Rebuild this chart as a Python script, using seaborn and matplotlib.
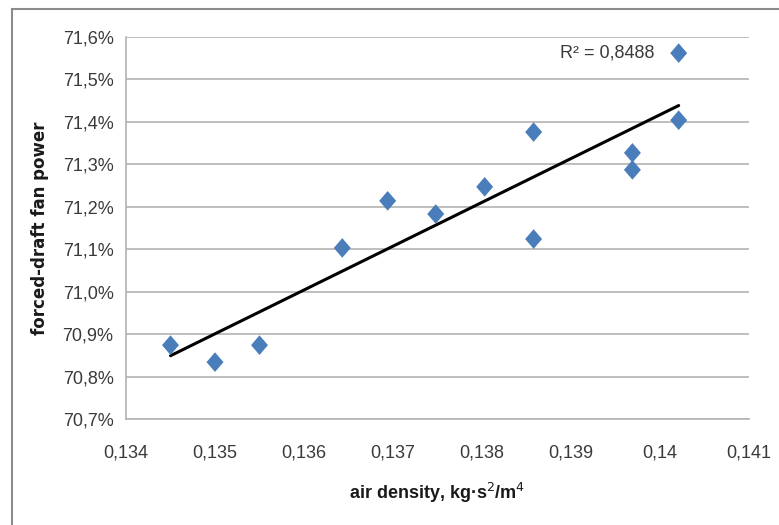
import numpy as np
import pandas as pd
import matplotlib
matplotlib.use('Agg')
import matplotlib.pyplot as plt
from matplotlib.patches import Rectangle
from matplotlib.path import Path
from matplotlib.ticker import FuncFormatter, MultipleLocator
import seaborn as sns

# air density, kg*s^2/m^4
density = [0.1345, 0.1350, 0.1355, 0.13643, 0.13694, 0.13748, 0.13803,
           0.13858, 0.13858, 0.13969, 0.13969, 0.14021, 0.14021]
# forced-draft fan power, %
power = [70.874, 70.834, 70.874, 71.103, 71.214, 71.183, 71.247,
         71.376, 71.124, 71.327, 71.287, 71.562, 71.404]
r2_label = 'R² = 0,8488'

df = pd.DataFrame({'density': density, 'power': power})

sns.set_style('white')
plt.rcParams['font.family'] = ['Liberation Sans Narrow', 'Liberation Sans', 'DejaVu Sans']

fig = plt.figure(figsize=(7.79, 5.25), dpi=100)
fig.patches.append(Rectangle((12 / 779, -0.05), 1.0, 1 - 9 / 525 + 0.05,
                             transform=fig.transFigure, fill=False,
                             edgecolor='#8c8c8c', linewidth=1.5))
ax = fig.add_axes([126 / 779, 106 / 525, 623 / 779, 382 / 525])

diamond = Path([(0, 1.1), (0.95, 0), (0, -1.1), (-0.95, 0), (0, 1.1)],
               [Path.MOVETO, Path.LINETO, Path.LINETO, Path.LINETO, Path.CLOSEPOLY])

sns.regplot(data=df, x='density', y='power', ax=ax, ci=None, scatter=False,
            truncate=True, line_kws={'color': 'black', 'lw': 2.2, 'zorder': 2})
sns.scatterplot(data=df, x='density', y='power', ax=ax, marker=diamond,
                s=200, color='#4a7ebb', edgecolor='none', zorder=3)

ax.set_xlim(0.134, 0.141)
ax.set_ylim(70.7, 71.6)
ax.xaxis.set_major_locator(MultipleLocator(0.001))
ax.yaxis.set_major_locator(MultipleLocator(0.1))

def xfmt(v, pos):
    s = ('%.3f' % v).rstrip('0')
    return s.replace('.', ',')

ax.xaxis.set_major_formatter(FuncFormatter(xfmt))
ax.yaxis.set_major_formatter(FuncFormatter(lambda v, p: ('%.1f%%' % v).replace('.', ',')))

ax.grid(axis='y', color='#b3b3b3', lw=1.2)
ax.grid(axis='x', visible=False)
ax.set_axisbelow(True)
for side in ['top', 'right']:
    ax.spines[side].set_visible(False)
for side in ['left', 'bottom']:
    ax.spines[side].set_color('#b3b3b3')
    ax.spines[side].set_linewidth(1.2)
ax.tick_params(axis='both', which='both', length=5, width=1.2, color='#b3b3b3',
               labelsize=13, labelcolor='#3a3a3a', direction='out')
ax.tick_params(axis='x', pad=13)
ax.tick_params(axis='y', pad=4)

ax.set_xlabel('air density, kg·s$^2$/m$^4$', fontsize=13, fontweight='bold',
              color='#1a1a1a', labelpad=14)
ax.set_ylabel('forced-draft fan power', fontsize=12, fontweight='bold',
              color='#1a1a1a', labelpad=10, family=['DejaVu Sans'])
ax.text(0.13888, 71.562, r2_label, fontsize=13, color='#3a3a3a',
        ha='left', va='center')

fig.savefig('out.png', dpi=100)
